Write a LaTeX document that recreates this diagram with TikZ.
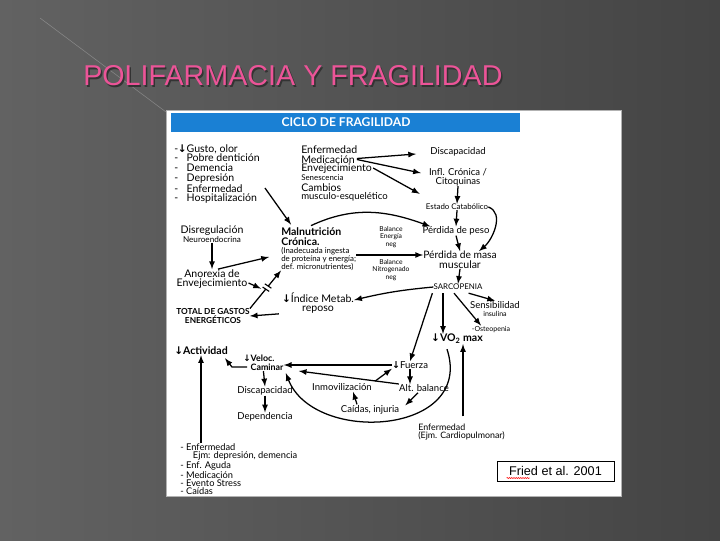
\documentclass[tikz,border=0pt]{standalone}
\usepackage{fontspec}
\setmainfont{Lato}
\newfontfamily\arialfont{Liberation Sans}
\newfontfamily\symfont{DejaVu Sans}
\usetikzlibrary{positioning, arrows, calc, decorations.pathmorphing}
\definecolor{headblue}{RGB}{26,128,212}
\definecolor{titlepink}{RGB}{236,84,152}
\definecolor{bgleft}{RGB}{98,98,98}
\definecolor{bgright}{RGB}{68,68,68}
\newcommand{\dn}{{\symfont\bfseries ↓}}
\newcommand{\ttlfont}{\arialfont\fontsize{20.4}{20.4}\selectfont}

\begin{document}
\begin{tikzpicture}[x=0.025cm, y=-0.025cm,
	lbl/.style={inner sep=0pt, align=center, font=\fontsize{7.5}{6.8}\selectfont},
	lblb/.style={inner sep=0pt, align=left, font=\fontsize{7.5}{6.6}\selectfont\bfseries},
	sml/.style={inner sep=0pt, align=center, font=\fontsize{6.8}{6.3}\selectfont},
	tny/.style={inner sep=0pt, align=center, font=\fontsize{5.6}{5.4}\selectfont},
	arr/.style={-latex, line width=0.9pt}]
	
	\useasboundingbox (0,0) rectangle (720,540);
	
	%Background
	\shade[left color=bgleft, right color=bgright] (0,0) rectangle (720,540);
	\draw[white, opacity=0.25] (40,18) -- (166,112);
	
	%Title
	\node (titleShade) at (84.5,77.5) [anchor=west, inner sep=0pt, text=black!80, font=\ttlfont] {POLIFARMACIA Y FRAGILIDAD};
	\node (title) at (83,76) [anchor=west, inner sep=0pt, text=titlepink, font=\ttlfont] {POLIFARMACIA Y FRAGILIDAD};
	
	%Panel
	\draw[fill=white, draw=black!30] (166,110) rectangle (621,496);
	\fill[headblue] (171,113) rectangle (520,132);
	\node (header) at (346,122.5) [inner sep=0pt, text=white, font=\fontsize{8.6}{8.6}\selectfont\bfseries] {CICLO DE FRAGILIDAD};
	
	%Nodes
	\node (riskA) at (174,174) [lbl, anchor=west, align=left] {-\hspace{6pt}\llap{\dn}Gusto, olor\\
		-\hspace{6pt}Pobre dentición\\ -\hspace{6pt}Demencia\\ -\hspace{6pt}Depresión\\
		-\hspace{6pt}Enfermedad\\ -\hspace{6pt}Hospitalización};
	
	\node (enf) at (301,150) [lbl, anchor=west] {Enfermedad};
	\node (medic) at (301,159.5) [lbl, anchor=west] {Medicación};
	\node (envej) at (301,169) [lbl, anchor=west] {Envejecimiento};
	\node (senes) at (301,178) [tny, anchor=west] {Senescencia};
	\node (cambios) at (301,188) [lbl, anchor=west] {Cambios};
	\node (muscEsq) at (301,197) [sml, anchor=west] {musculo-esquelético};
	
	\node (disca) at (458,152) [sml] {Discapacidad};
	\node (inflam) at (458,177) [sml] {Infl. Crónica /\\Citoquinas};
	\node (catab) at (457,207) [tny] {Estado Catabólico};
	\node (peso) at (456,231) [sml] {Pérdida de peso};
	\node (masa) at (460,260) [lbl] {{\fontsize{7.3}{7}\selectfont Pérdida de masa}\\muscular};
	\node (sarco) at (458,287) [tny] {SARCOPENIA};
	\node (sensi) at (495,309) [sml] {Sensibilidad\\{\fontsize{5}{5}\selectfont insulina}};
	\node (osteo) at (491,330) [tny, font=\fontsize{5}{5}\selectfont] {-Osteopenia};
	\node (vo2) at (457,339) [lblb] {\dn VO\textsubscript{2} max};
	
	\node (maln) at (281,236.5) [lblb, anchor=west] {Malnutrición\\Crónica.};
	\node (malSub) at (281,259) [tny, anchor=west, align=left] {(Inadecuada ingesta\\de proteína y energía;\\def. micronutrientes)};
	\node (balE) at (391,237) [tny, font=\fontsize{4.8}{5.2}\selectfont] {Balance\\Energía\\neg};
	\node (balN) at (391,270) [tny, font=\fontsize{4.8}{5.2}\selectfont] {Balance\\Nitrogenado\\neg};
	
	\node (disreg) at (212,234) [lbl] {Disregulación\\{\fontsize{5.8}{5.8}\selectfont Neuroendocrina}};
	\node (anorex) at (212,279) [lbl] {Anorexia de\\Envejecimiento};
	\node (indice) at (318,303) [lbl] {\dn Índice Metab.\\reposo};
	\node (gastos) at (213,316) [tny, font=\fontsize{5.9}{5.8}\selectfont\bfseries] {TOTAL DE GASTOS\\ENERGÉTICOS};
	
	\node (activ) at (174,351) [lblb, anchor=west] {\dn Actividad};
	\node (veloc) at (243,363) [lblb, anchor=west, font=\fontsize{6.3}{6.3}\selectfont\bfseries] {\dn Veloc.\\\hphantom{\dn}Caminar};
	\node (disca2) at (265,391) [sml] {Discapacidad};
	\node (depend) at (265,417) [sml] {Dependencia};
	
	\node (fuerza) at (410,365) [sml] {\dn Fuerza};
	\node (altBal) at (424,388) [sml] {Alt. balance};
	\node (caidas) at (370,410) [sml] {Caídas, injuria};
	\node (inmov) at (342,387) [sml] {Inmovilización};
	
	\node (enfCard) at (418,432) [tny, anchor=west, align=left, font=\fontsize{6.3}{6.2}\selectfont] {Enfermedad\\(Ejm. Cardiopulmonar)};
	\node (enfList) at (180,469) [sml, anchor=west, align=left, font=\fontsize{6.6}{5.7}\selectfont] {- Enfermedad\\
		\hspace{9pt}Ejm: depresión, demencia\\- Enf. Aguda\\- Medicación\\- Evento Stress\\- Caídas};
	
	\node (fried) at (555.5,471) [draw, fill=white, line width=0.6pt, minimum width=2.925cm, minimum height=0.5cm,
	font=\arialfont\fontsize{9}{9}\selectfont] {Fried et al. 2001};
	\draw[red, decorate, decoration={snake, amplitude=0.35pt, segment length=1.6pt}] ([shift={(10,7)}]fried.west) -- ++(23,0);
	
	%Links
	\draw[arr] ([shift={(5,14)}]riskA.east) -- ([shift={(10,-3)}]maln.north west);
	\draw[arr] ([shift={(2,-1)}]medic.east) -- ([shift={(-14,2)}]disca.west);
	\draw[arr] ([shift={(2,0)}]medic.east) -- ([shift={(-8,-4)}]inflam.west);
	\draw[arr] ([shift={(1,-1)}]envej.east) -- ([shift={(-6,-10)}]catab.north west);
	\draw[arr] (inflam.south) -- (catab.north);
	\draw[arr] (catab.south) -- (peso.north);
	\draw[arr] (catab.east) to [out=-20,in=40] ([shift={(-18,0)}]masa.north east);
	\draw[arr] (peso.south) -- (masa.north);
	\draw[arr] (masa.south) -- (sarco.north);
	\draw[arr] ([shift={(30,-2)}]maln.north west) to [out=25,in=160] ([shift={(8,0)}]peso.north west);
	\coordinate (malOut) at ([shift={(0,-4)}]malSub.east);
	\draw[arr] (malOut) -- (malOut -| masa.west);
	
	\draw[arr] (disreg.south) -- (anorex.north);
	\draw[arr] ([shift={(6,0)}]anorex.north) -- ([shift={(-12,-2)}]malSub.west);
	\path (gastos.north east) -- (malSub.south west) coordinate[pos=0.55] (cut);
	\draw[arr] (gastos.north east) -- (malSub.south west);
	\draw[white, line width=2pt] ([shift={(-1,1.5)}]cut) -- ([shift={(1,-1.5)}]cut);
	\draw[line width=0.8pt] ([shift={(-2.2,-3.8)}]cut) -- ([shift={(4.4,0.6)}]cut);
	\draw[line width=0.8pt] ([shift={(-4.4,-0.6)}]cut) -- ([shift={(2.2,3.8)}]cut);
	\draw[arr] ([shift={(1,4)}]anorex.east) -- ([shift={(-6,1)}]cut);
	
	\draw[arr] (sarco.west) to [bend right=4] ([shift={(0,-3)}]indice.east);
	\draw[arr] ([shift={(-3,0)}]indice.south west) -- (gastos.east);
	
	\draw[arr] ([shift={(4,-4)}]veloc.south west) -- ++(-15,0) -- ([shift={(-3,3)}]activ.south east);
	\draw[arr] (veloc.south) -- (disca2.north);
	\draw[arr] (disca2.south) -- (depend.north);
	\draw[arr] (enfList.north -| activ.south) -- (activ.south);
	
	\draw[arr] ([shift={(-1,3)}]sarco.south west) -- (fuerza.north);
	\draw[arr] ([shift={(-15,3)}]sarco.south) -- ([shift={(-14,0)}]vo2.north);
	\draw[arr] ([shift={(-4,3)}]sarco.south) -- ([shift={(-10,-1)}]osteo.north);
	\draw[arr] ([shift={(-14,3)}]sarco.south east) -- (sensi.north);
	
	\draw[arr] (fuerza.west) -- (fuerza.west -| veloc.east);
	\draw[arr] (fuerza.south) -- (fuerza.south |- altBal.north);
	\draw[arr] ([shift={(-6,1)}]altBal.south) -- ([shift={(6,0)}]caidas.north east);
	\draw[arr] ([shift={(-13,-1)}]caidas.north) -- ([shift={(11,1)}]inmov.south);
	\draw[arr] ([shift={(3,-2)}]inmov.north east) -- (fuerza.south west);
	\draw[arr] ([shift={(0,-4)}]altBal.west) -- ([shift={(15,0)}]veloc.south east);
	\draw[arr] ([shift={(-10,5)}]vo2.south) .. controls +(28,86) and +(28,72) .. ([shift={(2,2)}]veloc.south east);
	
	\coordinate (enfTop) at ([shift={(45,-7)}]enfCard.north west);
	\draw[arr] (enfTop) -- (enfTop |- vo2.south);
	
\end{tikzpicture}
\end{document}
